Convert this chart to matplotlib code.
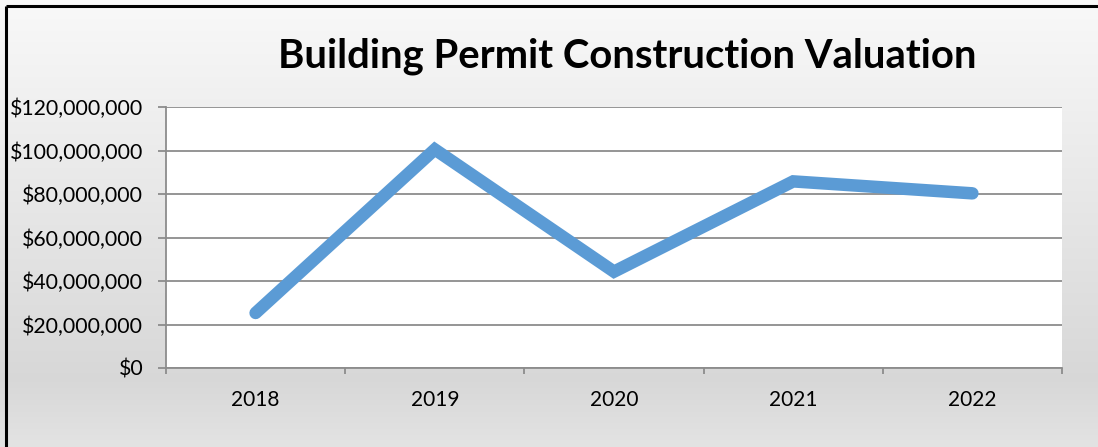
import numpy as np
import matplotlib.pyplot as plt
from matplotlib.lines import Line2D
from matplotlib.ticker import FuncFormatter, FixedLocator

years = ['2018', '2019', '2020', '2021', '2022']
valuation = [25_300_000, 100_500_000, 44_300_000, 85_800_000, 80_300_000]
y_ticks = [0, 20_000_000, 40_000_000, 60_000_000, 80_000_000, 100_000_000, 120_000_000]

plt.rcParams['font.family'] = ['Lato', 'DejaVu Sans']

fig = plt.figure(figsize=(10.98, 4.47), dpi=100)

# soft vertical gradient behind everything (darkest a little above the bottom)
bg = fig.add_axes([0, 0, 1, 1], zorder=-10)
t = np.linspace(0, 1, 256)
grad = np.where(t < 0.85, 0.975 - 0.13 * t / 0.85, 0.845 + 0.045 * (t - 0.85) / 0.15)
grad = grad.reshape(-1, 1)
bg.imshow(np.dstack([grad, grad, grad]), aspect='auto', extent=[0, 1, 0, 1])
bg.set_axis_off()

# chart frame (left and top edges)
fig.add_artist(Line2D([6 / 1098, 6 / 1098], [0, 1 - 6 / 447],
                      transform=fig.transFigure, color='black', lw=2.2,
                      solid_capstyle='butt'))
fig.add_artist(Line2D([6 / 1098, 1], [1 - 6 / 447, 1 - 6 / 447],
                      transform=fig.transFigure, color='black', lw=2.2,
                      solid_capstyle='butt'))

ax = fig.add_axes([166 / 1098, 1 - 368 / 447, 896 / 1098, 261 / 447])
ax.set_facecolor('white')

x = np.arange(len(years))
ax.plot(x, valuation, color='#5B9BD5', lw=9, solid_capstyle='round',
        solid_joinstyle='miter', zorder=3)

ax.set_xlim(-0.5, len(years) - 0.5)
ax.set_ylim(0, 120_000_000)
ax.set_yticks(y_ticks)
ax.yaxis.set_major_formatter(FuncFormatter(lambda v, p: f'${v:,.0f}'))
ax.grid(axis='y', color='#8c8c8c', lw=1.3)
ax.set_axisbelow(True)

ax.set_xticks(x)
ax.set_xticklabels(years)
ax.xaxis.set_minor_locator(FixedLocator(np.arange(-0.5, len(years), 1.0)))
ax.tick_params(axis='x', which='major', length=0, pad=16, labelsize=15)
ax.tick_params(axis='x', which='minor', length=4.5, width=1.3, color='#8c8c8c')
ax.tick_params(axis='y', length=5.8, width=1.3, color='#8c8c8c', pad=10.5, labelsize=15.3)

for side in ['top', 'right']:
    ax.spines[side].set_visible(False)
for side in ['left', 'bottom']:
    ax.spines[side].set_color('#8c8c8c')
    ax.spines[side].set_linewidth(1.3)

fig.text(627 / 1098, 1 - 56 / 447, 'Building Permit Construction Valuation',
         ha='center', va='center', fontsize=28.8, fontweight='bold')

fig.savefig('out.png', dpi=100)
